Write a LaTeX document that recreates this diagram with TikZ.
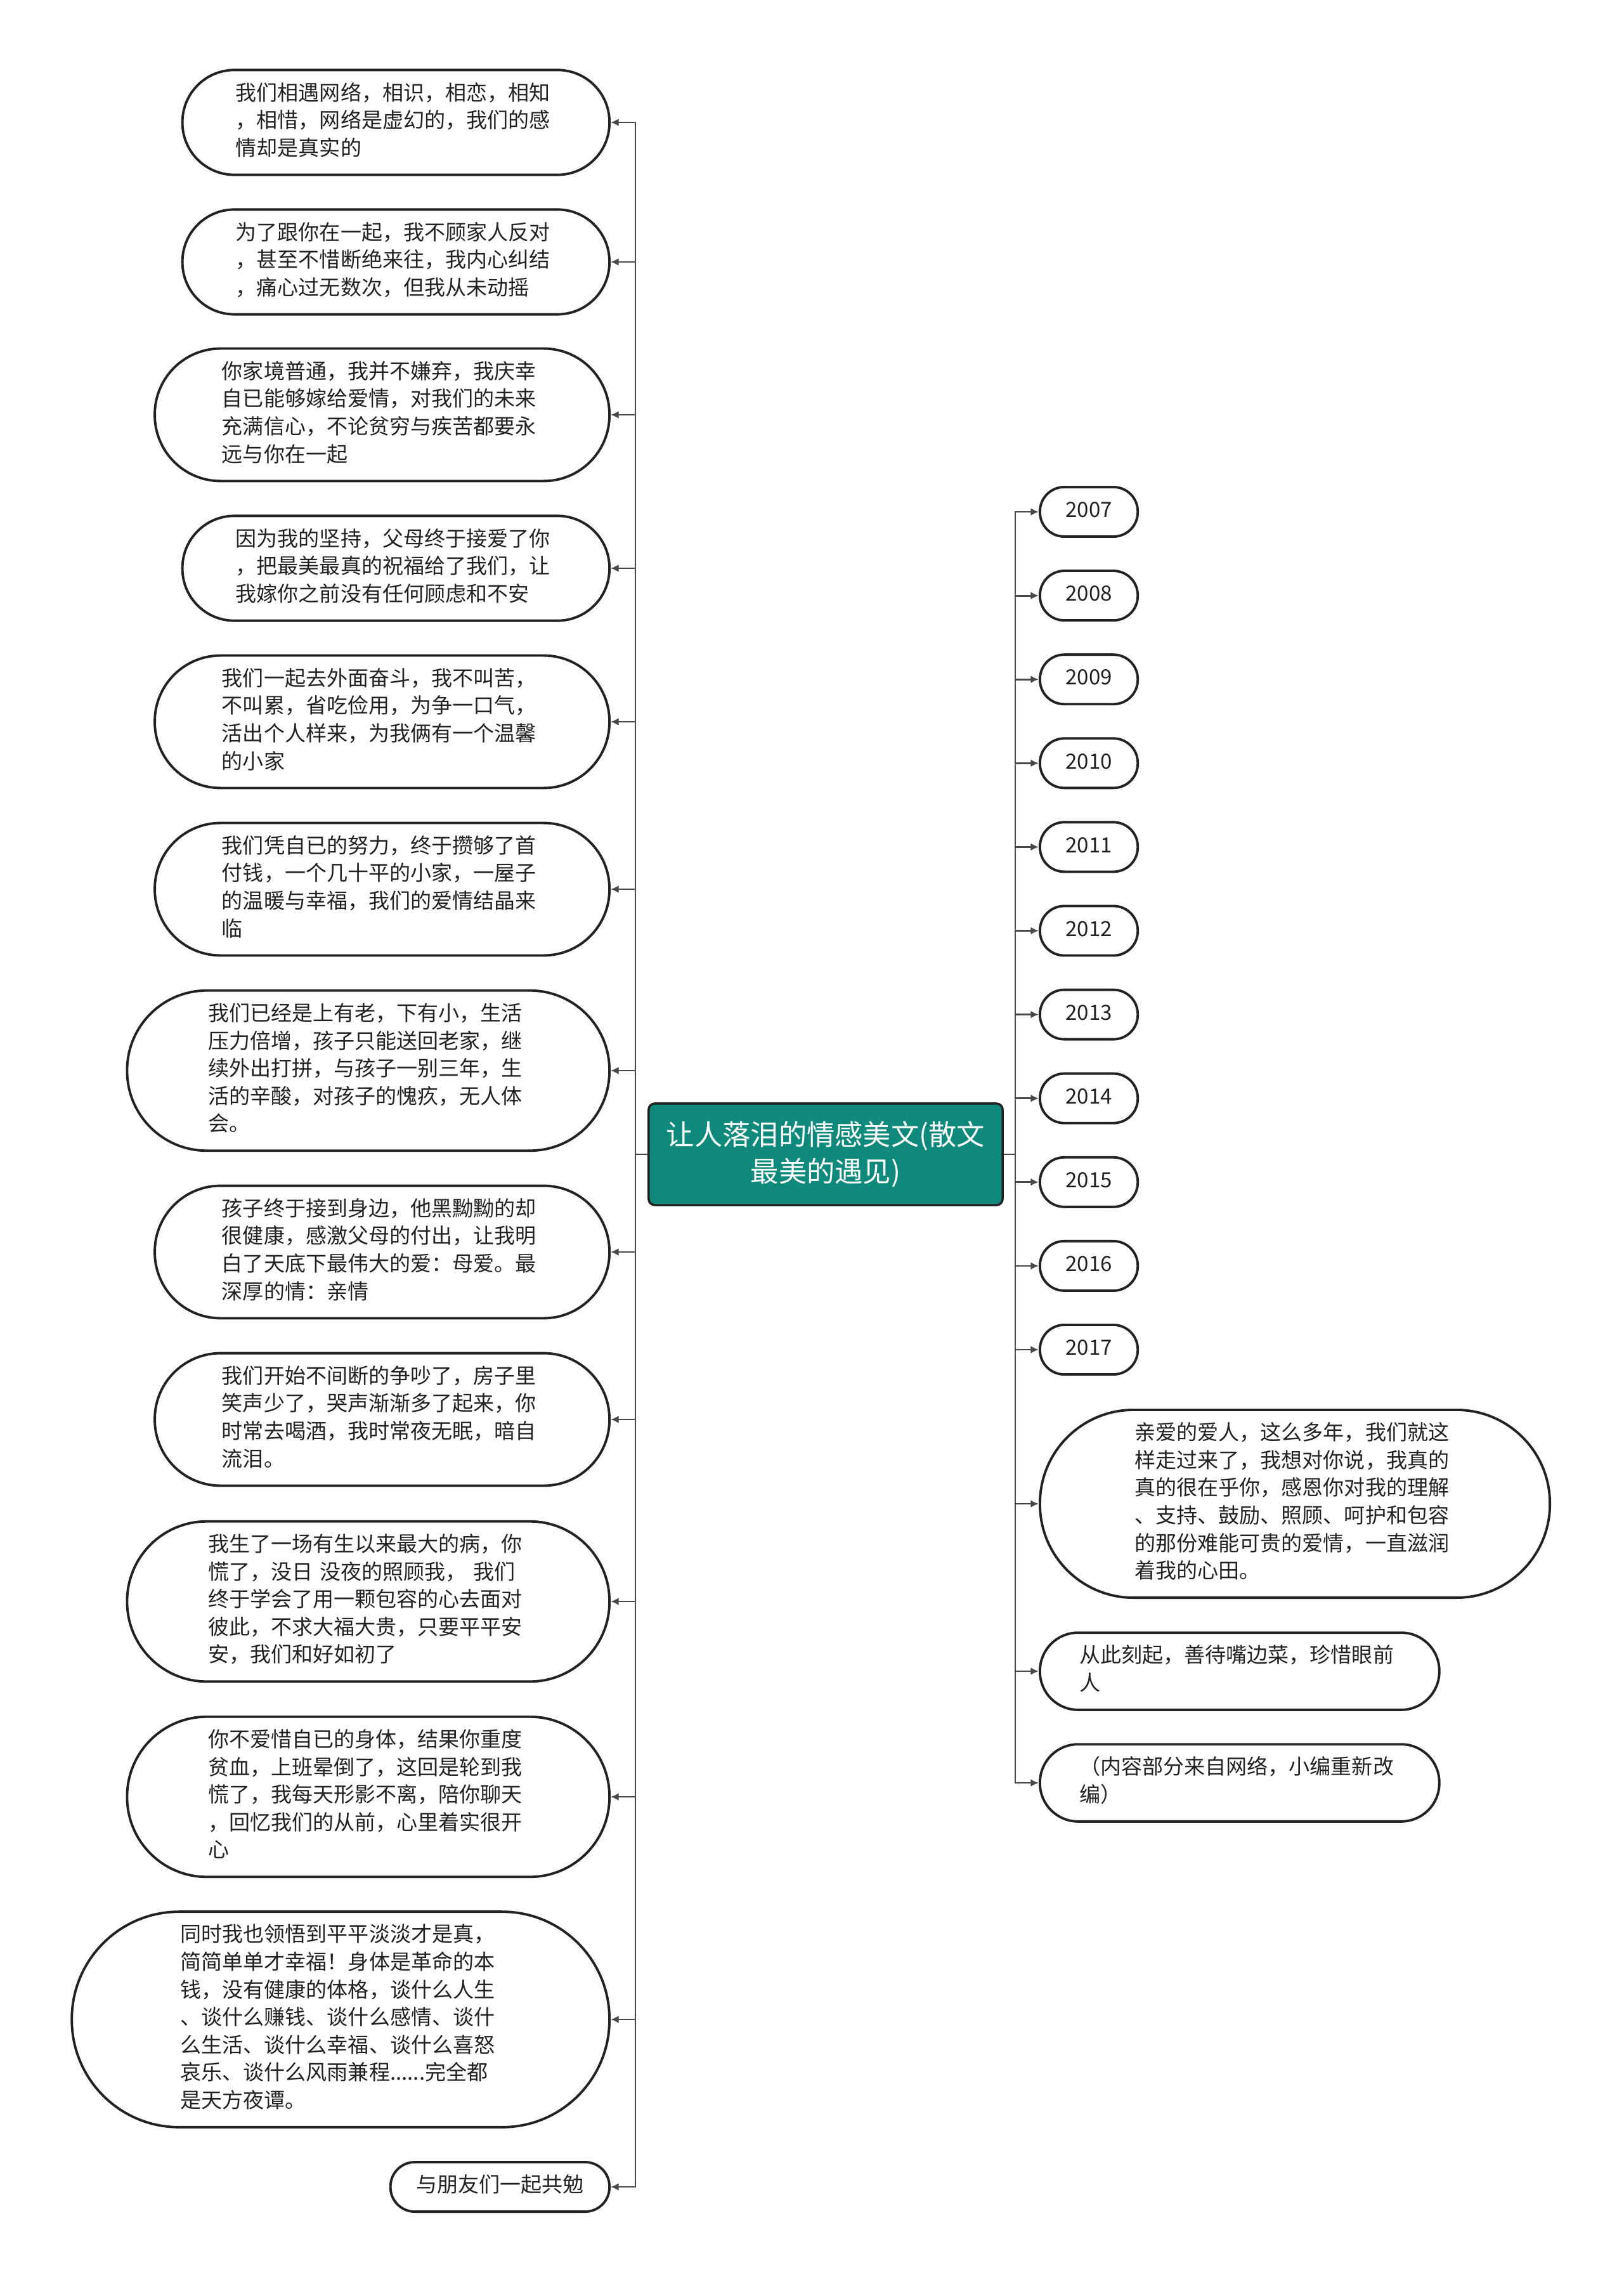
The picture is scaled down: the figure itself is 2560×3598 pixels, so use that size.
\documentclass[tikz,border=0pt]{standalone}
\usepackage{fontspec}
\setmainfont{Noto Sans CJK SC}
\usetikzlibrary{arrows.meta, positioning, calc}

\definecolor{topicteal}{RGB}{14,137,124}
\definecolor{inkgray}{RGB}{34,34,34}
\definecolor{wiregray}{RGB}{72,72,72}

\tikzset{
  % #1 = number of text lines, gives the half-round ends
  leaf/.style={rectangle, draw=inkgray, line width=1.1pt, fill=white,
    text=inkgray, inner ysep=0pt, inner xsep={6.2pt*#1+5.3pt},
    minimum height={12.4pt*#1+9.8pt}, rounded corners={6.2pt*#1+4.7pt},
    font=\fontsize{9.4pt}{12.4pt}\selectfont,
    execute at begin node=\strut, execute at end node=\strut},
  para/.style={leaf=#1, text width=5.05cm, align=left},
  year/.style={leaf=1, anchor=west},
  topic/.style={rectangle, rounded corners=2.8pt, draw=inkgray, line width=1pt,
    fill=topicteal, text=white, minimum width=5.58cm, minimum height=1.6cm,
    text width=5.4cm, align=center, inner sep=0pt,
    font=\fontsize{12.6pt}{16.3pt}\selectfont},
  wire/.style={draw=wiregray, line width=0.8pt, -{Latex[length=3.6pt,width=3.4pt]}},
}

\begin{document}
\begin{tikzpicture}[x=0.01cm,y=-0.01cm]
\useasboundingbox (0,0) rectangle (2560,3598);

\node[topic] (nT) at (1302,1820) {让人落泪的情感美文(散文\\最美的遇见)};
\coordinate (cL) at (1002,1820);
\coordinate (cR) at (1601,1820);

% left side
\node[para=3,anchor=east] (nL1) at (963,193) {我们相遇网络，相识，相恋，相知\\，相惜，网络是虚幻的，我们的感\\情却是真实的};
\node[para=3,anchor=east] (nL2) at (963,413) {为了跟你在一起，我不顾家人反对\\，甚至不惜断绝来往，我内心纠结\\，痛心过无数次，但我从未动摇};
\node[para=4,anchor=east] (nL3) at (963,654) {你家境普通，我并不嫌弃，我庆幸\\自已能够嫁给爱情，对我们的未来\\充满信心，不论贫穷与疾苦都要永\\远与你在一起};
\node[para=3,anchor=east] (nL4) at (963,896) {因为我的坚持，父母终于接爱了你\\，把最美最真的祝福给了我们，让\\我嫁你之前没有任何顾虑和不安};
\node[para=4,anchor=east] (nL5) at (963,1138) {我们一起去外面奋斗，我不叫苦，\\不叫累，省吃俭用，为争一口气，\\活出个人样来，为我俩有一个温馨\\的小家};
\node[para=4,anchor=east] (nL6) at (963,1402) {我们凭自已的努力，终于攒够了首\\付钱，一个几十平的小家，一屋子\\的温暖与幸福，我们的爱情结晶来\\临};
\node[para=5,anchor=east] (nL7) at (963,1688) {我们已经是上有老，下有小，生活\\压力倍增，孩子只能送回老家，继\\续外出打拼，与孩子一别三年，生\\活的辛酸，对孩子的愧疚，无人体\\会。};
\node[para=4,anchor=east] (nL8) at (963,1974) {孩子终于接到身边，他黑黝黝的却\\很健康，感激父母的付出，让我明\\白了天底下最伟大的爱：母爱。最\\深厚的情：亲情};
\node[para=4,anchor=east] (nL9) at (963,2238) {我们开始不间断的争吵了，房子里\\笑声少了，哭声渐渐多了起来，你\\时常去喝酒，我时常夜无眠，暗自\\流泪。};
\node[para=5,anchor=east] (nL10) at (963,2525) {我生了一场有生以来最大的病，你\\慌了，没日 没夜的照顾我， 我们\\终于学会了用一颗包容的心去面对\\彼此，不求大福大贵，只要平平安\\安，我们和好如初了};
\node[para=5,anchor=east] (nL11) at (963,2833) {你不爱惜自已的身体，结果你重度\\贫血，上班晕倒了，这回是轮到我\\慌了，我每天形影不离，陪你聊天\\，回忆我们的从前，心里着实很开\\心};
\node[para=7,anchor=east] (nL12) at (963,3184) {同时我也领悟到平平淡淡才是真，\\简简单单才幸福！身体是革命的本\\钱，没有健康的体格，谈什么人生\\、谈什么赚钱、谈什么感情、谈什\\么生活、谈什么幸福、谈什么喜怒\\哀乐、谈什么风雨兼程......完全都\\是天方夜谭。};
\node[leaf=1,anchor=east] (nL13) at (963,3448) {与朋友们一起共勉};

% right side
\foreach \yr [count=\k from 0] in {2007,...,2017}
  \node[year] (nY\yr) at (1638,{807+132.1*\k}) {\yr};
\node[para=6,anchor=west] (nR1) at (1638,2371) {亲爱的爱人，这么多年，我们就这\\样走过来了，我想对你说，我真的\\真的很在乎你，感恩你对我的理解\\、支持、鼓励、照顾、呵护和包容\\的那份难能可贵的爱情，一直滋润\\着我的心田。};
\node[para=2,anchor=west] (nR2) at (1638,2635) {从此刻起，善待嘴边菜，珍惜眼前\\人};
\node[para=2,anchor=west] (nR3) at (1638,2811) {（内容部分来自网络，小编重新改\\编）};

\foreach \i in {1,...,13}
  \draw[wire] (nT.west) -- (cL) |- (nL\i.east);
\foreach \yr in {2007,...,2017}
  \draw[wire] (nT.east) -- (cR) |- (nY\yr.west);
\foreach \i in {1,2,3}
  \draw[wire] (nT.east) -- (cR) |- (nR\i.west);
\end{tikzpicture}
\end{document}
